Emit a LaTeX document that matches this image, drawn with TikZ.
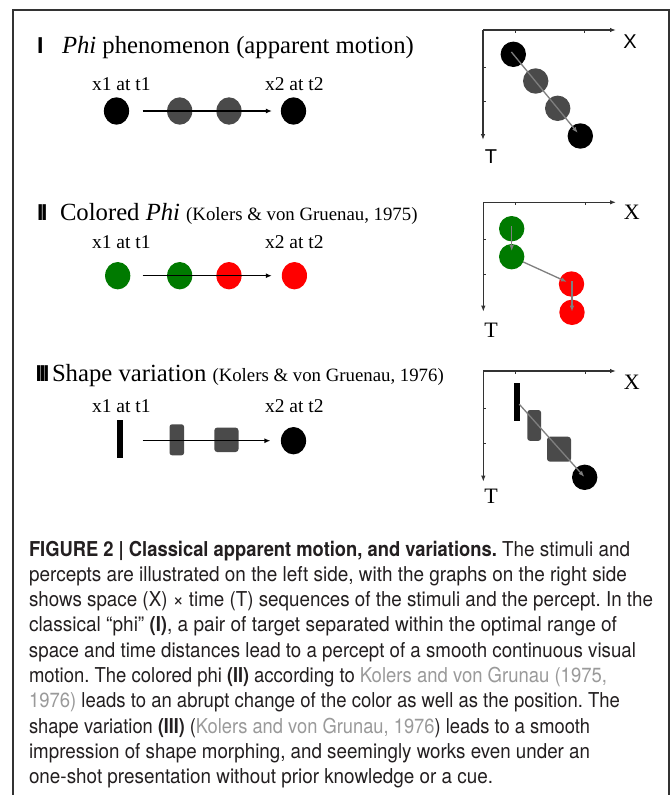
\documentclass[tikz,border=0pt]{standalone}
\usepackage{fontspec}
\usepackage{graphicx}
\setmainfont{Liberation Serif}
\setsansfont{Liberation Sans}
\newfontfamily\capfont[FakeStretch=0.92,BoldFeatures={FakeStretch=0.895}]{TeX Gyre Heros}
\usetikzlibrary{arrows.meta,shapes.geometric}
\definecolor{dgray}{HTML}{4A4A4A}
\definecolor{pgreen}{HTML}{007A00}
\definecolor{pred}{HTML}{FF0000}
\definecolor{arrgray}{HTML}{7F7F7F}
\definecolor{citegray}{HTML}{9A9A9A}
\definecolor{txt}{HTML}{231F20}
\definecolor{framecol}{HTML}{333333}
\frenchspacing
\newsavebox\fitlinebox
\newlength\fitlinelen
\newcommand\fitto[2]{\sbox\fitlinebox{#2}\setlength\fitlinelen{\wd\fitlinebox}%
  \pgfmathsetmacro\fitratio{#1/\fitlinelen}\scalebox{\fitratio}[1]{\usebox\fitlinebox}}
\begin{document}
\begin{tikzpicture}[x=1pt,y=-1pt,
  every node/.style={inner sep=0pt, outer sep=0pt},
  marker/.style={anchor=base west, font=\sffamily\bfseries\fontsize{23}{26}\selectfont},
  ttl/.style={anchor=base west, font=\fontsize{24.7}{28}\selectfont},
  lab/.style={anchor=base west, font=\fontsize{19.5}{22}\selectfont},
  ell/.style={ellipse, minimum width=25.2pt, minimum height=27.4pt, fill=#1},
  gdot/.style={circle, minimum size=25.4pt, fill=#1},
  mainarrow/.style={line width=1.2pt, -{Latex[length=6pt,width=5pt]}},
  axis/.style={line width=1.2pt, framecol, -{Latex[length=6pt,width=4.5pt]}},
  tick/.style={line width=0.8pt, framecol},
  garrow/.style={line width=1.3pt, arrgray, -{Latex[length=6pt,width=4.5pt]}},
  gsans/.style={font=\sffamily\fontsize{20}{22}\selectfont},
  gserif/.style={font=\fontsize{22}{24}\selectfont},
  capline/.style={anchor=base west, font=\capfont\fontsize{20.5}{24}\selectfont, text=txt},
]
\useasboundingbox (0,0) rectangle (671,795);
\fill[white] (0,0) rectangle (671,795);
% frame
\draw[framecol, line width=1.3pt] (13,795) -- (13,10) -- (669,10) -- (669,795);

% ---------------- Panel I ----------------
\node[marker] (m1) at (37,53) {I};
\node[ttl] (t1) at (62,53) {\textit{Phi} phenomenon (apparent motion)};
\node[lab] (a1) at (92,90) {x1 at t1};
\node[lab] (b1) at (265,90) {x2 at t2};
\node[ell=black] (p1a) at (116.5,111) {};
\node[ell=dgray] (p1b) at (179.7,111) {};
\node[ell=dgray] (p1c) at (229,111) {};
\node[ell=black] (p1d) at (293.5,111) {};
\draw[mainarrow] ([xshift=13.4pt]p1a.east) -- ([xshift=-9pt]p1d.west);

% graph I
\coordinate (o1) at (483,30);
\coordinate (x1e) at (616,30);
\coordinate (y1e) at (483,140);
\draw[axis] (o1) -- (x1e);
\draw[axis] (o1) -- (y1e);
\draw[tick] (515,30) -- (515,33) (584,30) -- (584,33);
\draw[tick] (483,67.7) -- (486,67.7) (483,101.7) -- (486,101.7);
\node[gsans] (lx1) at (630,41.7) {X};
\node[gsans] (lt1) at (491,156.7) {T};
\node[gdot=black] (g1a) at (513.3,54.3) {};
\node[gdot=dgray] (g1b) at (535.7,81) {};
\node[gdot=dgray] (g1c) at (557.7,108.3) {};
\node[gdot=black] (g1d) at (580.3,136) {};
\draw[garrow, shorten <=-3pt, shorten >=4pt] (g1a.center) -- (g1d.center);

% ---------------- Panel II ----------------
\node[marker] (m2) at (37,220) {I\kern-2.3pt I};
\node[ttl] (t2) at (60,220) {Colored \textit{Phi} {\fontsize{18.8}{22}\selectfont(Kolers \& von Gruenau, 1975)}};
\node[lab] (a2) at (92,248) {x1 at t1};
\node[lab] (b2) at (265,248) {x2 at t2};
\node[ell=pgreen] (p2a) at (117.7,275.7) {};
\node[ell=pgreen] (p2b) at (179.7,275.7) {};
\node[ell=pred] (p2c) at (229,275.7) {};
\node[ell=pred] (p2d) at (294.4,275.7) {};
\draw[mainarrow] ([xshift=12.2pt]p2a.east) -- ([xshift=-10pt]p2d.west);

% graph II
\coordinate (o2) at (483.3,202.3);
\coordinate (x2e) at (616,202.3);
\coordinate (y2e) at (483.3,311.7);
\draw[axis] (o2) -- (x2e);
\draw[axis] (o2) -- (y2e);
\draw[tick] (515.7,202.3) -- (515.7,205.3) (585,202.3) -- (585,205.3);
\draw[tick] (483.3,239.3) -- (486.3,239.3) (483.3,274.3) -- (486.3,274.3);
\node[gserif] (lx2) at (631.7,212.7) {X};
\node[gserif] (lt2) at (491,330) {T};
\node[gdot=pgreen] (g2a) at (511.7,228.7) {};
\node[gdot=pgreen] (g2b) at (511.7,256.7) {};
\node[gdot=pred] (g2c) at (571.5,284) {};
\node[gdot=pred] (g2d) at (572,312.3) {};
\draw[garrow, shorten <=-2.7pt, shorten >=5.7pt] (g2a.center) -- (g2b.center);
\draw[garrow, shorten >=5pt] (g2b) -- (g2c.center);
\draw[garrow, shorten <=-2.7pt, shorten >=0.6pt] ([xshift=0.5pt]g2c.center) -- (g2d.center);

% ---------------- Panel III ----------------
\node[marker] (m3) at (35.5,381) {I\kern-2.6pt I\kern-2.6pt I};
\node[ttl] (t3) at (52,381) {Shape variation {\fontsize{18.8}{22}\selectfont(Kolers \& von Gruenau, 1976)}};
\node[lab] (a3) at (92,412) {x1 at t1};
\node[lab] (b3) at (265,412) {x2 at t2};
\node[fill=black, minimum width=6.2pt, minimum height=38pt] (p3a) at (119.6,438.5) {};
\node[fill=dgray, rounded corners=2.5pt, minimum width=14.5pt, minimum height=31pt] (p3b) at (176.8,439.8) {};
\node[fill=dgray, rounded corners=3pt, minimum width=24.2pt, minimum height=24.5pt] (p3c) at (226.4,439.8) {};
\node[ell=black] (p3d) at (293.5,440.7) {};
\draw[mainarrow] ([xshift=19.8pt]p3a.east |- p3d.center) -- ([xshift=-10.5pt]p3d.west);

% graph III
\coordinate (o3) at (483.3,371);
\coordinate (x3e) at (616,371);
\coordinate (y3e) at (483.3,481.7);
\draw[axis] (o3) -- (x3e);
\draw[axis] (o3) -- (y3e);
\draw[tick] (515.7,371) -- (515.7,374) (585,371) -- (585,374);
\draw[tick] (483.3,408.3) -- (486.3,408.3) (483.3,443.7) -- (486.3,443.7);
\node[gserif] (lx3) at (631.7,382.3) {X};
\node[gserif] (lt3) at (491,496.7) {T};
\node[fill=black, minimum width=6.3pt, minimum height=38.3pt] (g3a) at (517.2,401.9) {};
\node[fill=dgray, rounded corners=2.5pt, minimum width=13.7pt, minimum height=30.7pt] (g3b) at (534.2,425.4) {};
\node[fill=dgray, rounded corners=3pt, minimum width=24pt, minimum height=25pt] (g3c) at (559,449.2) {};
\node[gdot=black] (g3d) at (584.7,477.3) {};
\draw[garrow, shorten <=3pt, shorten >=0.5pt] (g3a.center) -- (g3d.center);

% ---------------- Caption ----------------
\node[capline] (c1) at (29,556) {\fitto{601}{{\bfseries FIGURE 2 | Classical apparent motion, and variations.} The stimuli and}};
\node[capline] (c2) at (29,581.3) {\fitto{598}{percepts are illustrated on the left side, with the graphs on the right side}};
\node[capline] (c3) at (29,606.6) {\fitto{624}{shows space (X) × time (T) sequences of the stimuli and the percept. In the}};
\node[capline] (c4) at (29,631.9) {\fitto{588}{classical “phi” {\bfseries (I)}, a pair of target separated within the optimal range of}};
\node[capline] (c5) at (29,657.2) {\fitto{607}{space and time distances lead to a percept of a smooth continuous visual}};
\node[capline] (c6) at (29,682.5) {\fitto{578}{motion. The colored phi {\bfseries (II)} according to \textcolor{citegray}{Kolers and von Grunau (1975,}}};
\node[capline] (c7) at (29,707.8) {\fitto{591}{\textcolor{citegray}{1976)} leads to an abrupt change of the color as well as the position. The}};
\node[capline] (c8) at (29,733.1) {\fitto{561}{shape variation {\bfseries (III)} (\textcolor{citegray}{Kolers and von Grunau, 1976}) leads to a smooth}};
\node[capline] (c9) at (29,758.4) {\fitto{561}{impression of shape morphing, and seemingly works even under an}};
\node[capline] (c10) at (29,783.7) {\fitto{464}{one-shot presentation without prior knowledge or a cue.}};
\end{tikzpicture}
\end{document}
